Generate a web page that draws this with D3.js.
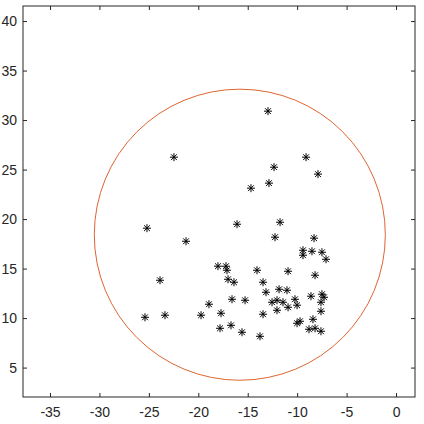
<!DOCTYPE html>
<html>
<head>
<meta charset="utf-8">
<script src="https://cdn.jsdelivr.net/npm/d3@7"></script>
<style>
  body { margin: 0; background: #fff; }
  svg { display: block; }
  text { font-family: "Liberation Sans", Arial, sans-serif; }
</style>
</head>
<body>
<svg id="chart" width="424" height="424"></svg>
<script>
// scatter points (x, y)
const xs = [-12.95, -22.46, -9.10, -12.34, -7.89, -12.85, -14.67, -25.19, -16.08, -11.73,
  -21.24, -12.24, -8.29, -9.41, -8.50, -7.49, -9.41, -7.08, -18.01, -17.20,
  -17.10, -14.06, -10.92, -8.19, -23.87, -16.99, -16.39, -13.45, -13.15, -11.83,
  -11.03, -18.92, -16.59, -15.27, -12.54, -12.04, -11.43, -10.22, -10.01, -10.92,
  -12.04, -8.60, -7.49, -7.28, -7.59, -25.39, -23.37, -19.72, -17.70, -13.45,
  -7.59, -8.40, -10.01, -9.71, -17.80, -16.69, -15.58, -13.76, -8.80, -8.19, -7.59];
const ys = [30.90, 26.25, 26.25, 25.24, 24.54, 23.63, 23.12, 19.08, 19.48, 19.68,
  17.76, 18.17, 18.07, 16.85, 16.75, 16.65, 16.35, 15.94, 15.24, 15.24,
  14.83, 14.83, 14.73, 14.33, 13.82, 13.92, 13.62, 13.62, 12.61, 12.91,
  12.81, 11.40, 11.90, 11.80, 11.60, 11.80, 11.60, 11.90, 11.30, 11.09,
  10.79, 12.21, 12.41, 12.10, 11.60, 10.08, 10.29, 10.29, 10.49, 10.39,
  10.69, 9.88, 9.48, 9.68, 8.97, 9.27, 8.57, 8.16, 8.87, 8.97, 8.67];

// fitted circle
const circleCenter = [-15.8, 18.42];
const circleRadius = 14.72;

const xTicks = [-35, -30, -25, -20, -15, -10, -5, 0];
const yTicks = [5, 10, 15, 20, 25, 30, 35, 40];

const boxLeft = 23, boxRight = 415, boxTop = 6, boxBottom = 397;
const axisColor = '#262626';

const svg = d3.select('#chart');

const xScale = d3.scaleLinear().domain([-37.73, 1.92]).range([boxLeft, boxRight]);
const yScale = d3.scaleLinear().domain([2.03, 41.52]).range([boxBottom, boxTop]);

const plot = svg.append('g');

// circle
const rPx = xScale(circleCenter[0] + circleRadius) - xScale(circleCenter[0]);
plot.append('circle')
  .attr('cx', xScale(circleCenter[0]))
  .attr('cy', yScale(circleCenter[1]))
  .attr('r', rPx)
  .attr('fill', 'none')
  .attr('stroke', '#D95319')
  .attr('stroke-width', 0.9);

// asterisk markers
const s = 4, d = 2.9;
const star = `M${-s},0H${s}M0,${-s}V${s}M${-d},${-d}L${d},${d}M${-d},${d}L${d},${-d}`;
plot.append('g').selectAll('path').data(xs.map((x, i) => [x, ys[i]])).enter().append('path')
  .attr('transform', (p) => `translate(${xScale(p[0])},${yScale(p[1])})`)
  .attr('d', star)
  .attr('fill', 'none')
  .attr('stroke', '#000')
  .attr('stroke-width', 1);

// axes
const tickLen = 4;
const fmt = (v) => String(v);
const xAxis = d3.axisBottom(xScale).tickValues(xTicks).tickFormat(fmt).tickSizeInner(-tickLen).tickSizeOuter(0).tickPadding(10);
const yAxis = d3.axisLeft(yScale).tickValues(yTicks).tickFormat(fmt).tickSizeInner(-tickLen).tickSizeOuter(0).tickPadding(6);
const xTop = d3.axisTop(xScale).tickValues(xTicks).tickSizeInner(-tickLen).tickSizeOuter(0).tickFormat('');
const yRight = d3.axisRight(yScale).tickValues(yTicks).tickSizeInner(-tickLen).tickSizeOuter(0).tickFormat('');

const gx = svg.append('g').attr('transform', `translate(0,${boxBottom})`).call(xAxis);
const gy = svg.append('g').attr('transform', `translate(${boxLeft},0)`).call(yAxis);
const gxt = svg.append('g').attr('transform', `translate(0,${boxTop})`).call(xTop);
const gyr = svg.append('g').attr('transform', `translate(${boxRight},0)`).call(yRight);

[gx, gy, gxt, gyr].forEach((g) => {
  g.select('.domain').remove();
  g.selectAll('line').attr('stroke', axisColor);
  g.selectAll('text').attr('fill', axisColor).style('font-size', '14px');
});

svg.append('rect')
  .attr('x', boxLeft).attr('y', boxTop)
  .attr('width', boxRight - boxLeft).attr('height', boxBottom - boxTop)
  .attr('fill', 'none').attr('stroke', axisColor).attr('stroke-width', 1);
</script>
</body>
</html>
